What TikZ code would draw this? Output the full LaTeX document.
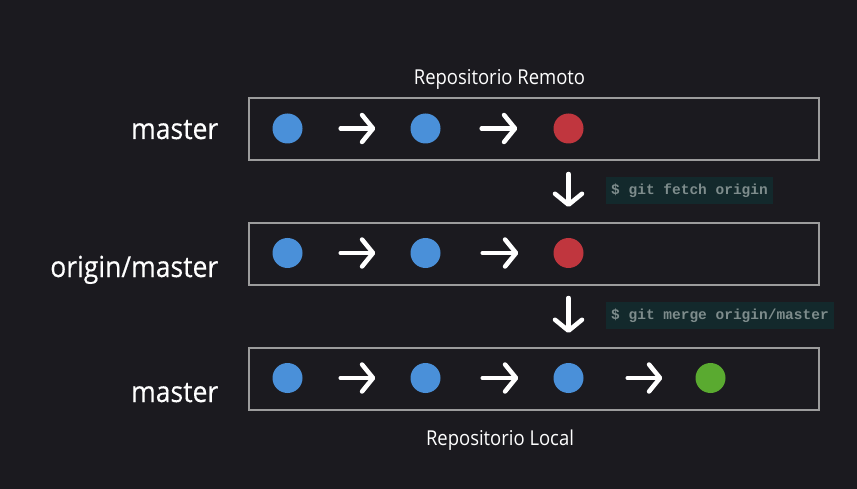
\documentclass[tikz,border=0pt]{standalone}
\usepackage{fontspec}
\setmainfont{Open Sans}
\newfontfamily\labelfont[FakeBold=0.3]{Open Sans}
\newfontfamily\codefont{Liberation Mono}
\usetikzlibrary{arrows.meta,shapes.geometric}
\definecolor{bg}{HTML}{1B1A1F}
\definecolor{commitblue}{HTML}{4A90D9}
\definecolor{commitred}{HTML}{C0363E}
\definecolor{commitgreen}{HTML}{5AAA30}
\definecolor{boxgray}{HTML}{9C9C9C}
\definecolor{codefill}{HTML}{13292C}
\definecolor{codetext}{HTML}{7E8C8C}
\newcommand\squeezetext[1]{\scalebox{0.9}[1]{#1}}
\newcommand\squeezelabel[1]{\scalebox{0.915}[1]{#1}}
\begin{document}
\begin{tikzpicture}[x=1pt,y=-1pt,
  repobox/.style={draw=boxgray, line width=2pt, rectangle, minimum width=570pt, minimum height=62pt, inner sep=0pt},
  commit/.style={circle, minimum size=30pt, inner sep=0pt, fill=#1},
  rowlabel/.style={text=white, inner sep=0pt, anchor=base east, font=\labelfont\fontsize{29}{31}\selectfont},
  repolabel/.style={text=white, inner sep=0pt, anchor=base, font=\fontsize{20.5}{24}\selectfont},
  commitarrow/.style={draw=white, line width=4.5pt, line cap=round, -{Straight Barb[length=11pt,width=27pt,round]}},
  codebox/.style={fill=codefill, text=codetext, anchor=west, minimum height=27pt, inner xsep=5pt, inner ysep=0pt, font=\codefont\bfseries\fontsize{14.5}{16}\selectfont}
]
\fill[bg] (0,0) rectangle (857,489);
\useasboundingbox (0,0) rectangle (857,489);

% repository boxes
\node[repobox] (box1) at (534,129) {};
\node[repobox] (box2) at (534,254) {};
\node[repobox] (box3) at (534,379) {};

% titles
\node[repolabel] (remote) at (499.5,85) {\squeezetext{Repositorio Remoto}};
\node[repolabel] (local) at (500,445) {\squeezetext{Repositorio Local}};

% row labels
\node[rowlabel] (lab1) at (218.5,139) {\squeezelabel{master}};
\node[rowlabel] (lab2) at (218.5,277) {\squeezelabel{origin/master}};
\node[rowlabel] (lab3) at (218.5,402) {\squeezelabel{master}};

% commits row 1
\node[commit=commitblue] (c11) at (287.5,128.5) {};
\node[commit=commitblue] (c12) at (425.5,128.5) {};
\node[commit=commitred]  (c13) at (568.5,128.5) {};
% commits row 2
\node[commit=commitblue] (c21) at (287.5,253) {};
\node[commit=commitblue] (c22) at (425.5,253) {};
\node[commit=commitred]  (c23) at (568.5,253) {};
% commits row 3
\node[commit=commitblue] (c31) at (287.5,378) {};
\node[commit=commitblue] (c32) at (425.5,378) {};
\node[commit=commitblue] (c33) at (568.5,378) {};
\node[commit=commitgreen] (c34) at (710.5,378) {};

% commit arrows
\draw[commitarrow, shorten <=38pt, shorten >=35pt] (c11) -- (c12);
\draw[commitarrow, shorten <=41pt, shorten >=36pt] (c12) -- (c13);
\draw[commitarrow, shorten <=38pt, shorten >=35pt] (c21) -- (c22);
\draw[commitarrow, shorten <=42pt, shorten >=35pt] (c22) -- (c23);
\draw[commitarrow, shorten <=38pt, shorten >=35pt] (c31) -- (c32);
\draw[commitarrow, shorten <=42pt, shorten >=35pt] (c32) -- (c33);
\draw[commitarrow, shorten <=44pt, shorten >=33pt] (c33) -- (c34);

% down arrows
\draw[commitarrow, shorten <=13pt, shorten >=15pt] (box1.south -| c13) -- (box2.north -| c23);
\draw[commitarrow, shorten <=12pt, shorten >=14pt] (box2.south -| c23) -- (box3.north -| c33);

% commands
\node[codebox] (cmd1) at (606,190.5) {\$ git fetch origin};
\node[codebox] (cmd2) at (606,315.5) {\$ git merge origin/master};
\end{tikzpicture}
\end{document}
